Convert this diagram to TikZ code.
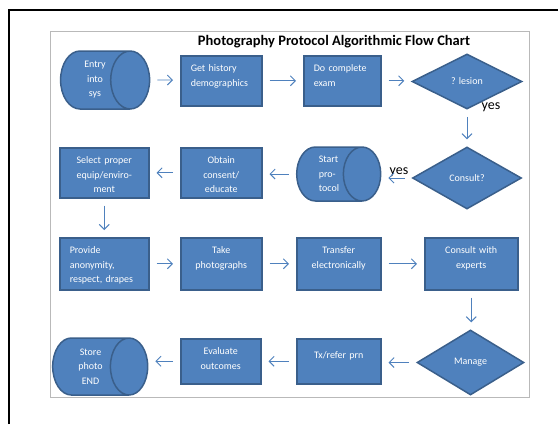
\documentclass[tikz,border=0pt]{standalone}
\usepackage{fontspec}
\setmainfont{Carlito}
\usetikzlibrary{shapes.geometric,arrows.meta}
\definecolor{boxblue}{HTML}{4F81BD}
\definecolor{edgeblue}{HTML}{3A5F8B}
\newcommand{\chartfont}{\fontsize{10}{14.5}\selectfont}

\begin{document}
\begin{tikzpicture}[x=1pt,y=-1pt,
  box/.style={rectangle,fill=boxblue,draw=edgeblue,line width=1.5pt,text=white,font=\chartfont,
    inner xsep=10pt,inner ysep=4pt,text height=12pt,anchor=north west},
  drum/.style={cylinder,aspect=1.05,fill=boxblue,draw=edgeblue,line width=1.5pt,text=white,
    font=\chartfont,align=center,inner sep=0pt},
  choice/.style={diamond,fill=boxblue,draw=edgeblue,line width=1.5pt,text=white,font=\chartfont,inner sep=0pt},
  link/.style={draw=boxblue,line width=0.9pt,-{Straight Barb[length=5pt,width=10pt]},shorten <=7pt,shorten >=7pt},
  yeslabel/.style={font=\fontsize{14}{16}\selectfont}]
\useasboundingbox (0,0) rectangle (558,424);
\draw[line width=2.5pt] (9,424) -- (9,10) -- (558,10);
\draw[gray!55,line width=0.8pt] (50.5,31) rectangle (529,397);
\node[font=\bfseries\fontsize{14.5}{16}\selectfont] (title) at (334,42) {Photography Protocol Algorithmic Flow Chart};

\node[drum,minimum width=58pt,minimum height=89pt] (entry) at (95,80) {Entry\\into\\sys};
\node[box,text width=61pt,text depth=30pt,align=left] (history) at (180,55) {Get history\\demographics};
\node[box,text width=57pt,text depth=30pt,align=left] (exam) at (303,55) {Do complete\\exam};
\node[choice,minimum width=110pt,minimum height=55pt] (lesion) at (467,81.5) {? lesion};

\node[choice,minimum width=109pt,minimum height=62pt] (consult) at (467,178) {Consult?};
\node[drum,minimum width=54pt,minimum height=84pt,align=left] (start) at (329,174) {Start\\pro-\\tocol};
\node[box,text width=61pt,text depth=30pt,align=center] (consent) at (180,147) {Obtain\\consent/\\educate};
\node[box,text width=69pt,text depth=30pt,align=center] (equip) at (59,147) {Select proper\\equip/enviro-\\ment};

\node[box,text width=69pt,text depth=32pt,align=left] (privacy) at (59,237) {Provide\\anonymity,\\respect, drapes};
\node[box,text width=61pt,text depth=32pt,align=center] (photos) at (180,237) {Take\\photographs};
\node[box,text width=64pt,text depth=32pt,align=center] (transfer) at (296,237) {Transfer\\electronically};
\node[box,text width=73pt,text depth=32pt,align=center] (experts) at (424,237) {Consult with\\experts};

\node[choice,minimum width=107pt,minimum height=65pt] (manage) at (470.5,362.5) {Manage};
\node[box,text width=64pt,text height=16pt,text depth=21pt,align=center] (treat) at (296,338) {Tx/refer prn};
\node[box,text width=60pt,text depth=25pt,align=center] (outcome) at (180,338) {Evaluate\\outcomes};
\node[drum,minimum width=57pt,minimum height=95pt] (store) at (90.5,366.5) {Store\\photo\\END};

\node[yeslabel] (yes1) at (491,107) {yes};
\node[yeslabel] (yes2) at (399,172) {yes};

\draw[link] (entry) -- (entry -| history.west);
\draw[link] (history) -- (history -| exam.west);
\draw[link] (exam) -- (exam -| lesion.west);
\draw[link] (lesion) -- (lesion |- consult.north);
\draw[link] (consult) -- (consult -| start.east);
\draw[link] (start) -- (start -| consent.east);
\draw[link] (consent) -- (consent -| equip.east);
\draw[link] (equip) -- (equip |- privacy.north);
\draw[link] (privacy) -- (privacy -| photos.west);
\draw[link] (photos) -- (photos -| transfer.west);
\draw[link] (transfer) -- (transfer -| experts.west);
\draw[link] (experts) -- (experts |- manage.north);
\draw[link] (manage) -- (manage -| treat.east);
\draw[link] (treat) -- (treat -| outcome.east);
\draw[link] (outcome) -- (outcome -| store.east);
\end{tikzpicture}
\end{document}
